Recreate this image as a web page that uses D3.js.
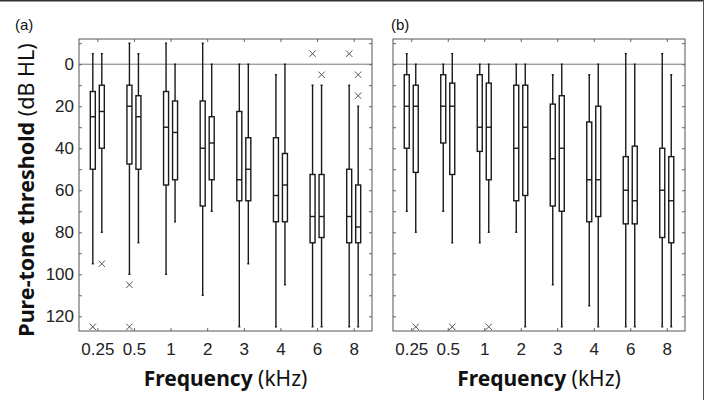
<!DOCTYPE html>
<html>
<head>
<meta charset="utf-8">
<script src="https://cdn.jsdelivr.net/npm/d3@7"></script>
<style>
    body { margin: 0; background: #fff; }
    svg { display: block; font-family: "Noto Sans", "Open Sans", sans-serif; }
    .axis text { font-size: 17px; fill: #222; }
    .axis line { stroke: #666; }
    .box { fill: #fff; stroke: #1a1a1a; stroke-width: 1.4; }
    .whisker, .median { stroke: #1a1a1a; stroke-width: 1.4; }
    .outlier { stroke: #555; stroke-width: 1; }
</style>
</head>
<body>
<svg id="chart" width="706" height="400"></svg>
<script>
// categories and tick values
const frequencies = ["0.25", "0.5", "1", "2", "3", "4", "6", "8"];
const yTickValues = [-10, 0, 10, 20, 30, 40, 50, 60, 70, 80, 90, 100, 110, 120];

// each row: [whisker top, q1, median, q3, whisker bottom] in dB HL
const panelALeft = [
    [-5, 13, 25, 50, 95],
    [-10, 10, 20, 47.5, 100],
    [-10, 13, 30, 57.5, 100],
    [-10, 17.5, 40, 67.5, 110],
    [0, 22.5, 55, 65, 125],
    [5, 35, 62.5, 75, 125],
    [10, 52.5, 72.5, 85, 125],
    [10, 50, 72.5, 85, 125]
];
const panelARight = [
    [-5, 10, 22.5, 40, 80],
    [-5, 15, 25, 50, 85],
    [0, 17.5, 32.5, 55, 75],
    [0, 25, 37.5, 55, 70],
    [0, 35, 50, 65, 95],
    [0, 42.5, 57.5, 75, 105],
    [10, 52.5, 72.5, 82.5, 125],
    [20, 57.5, 77.5, 85, 125]
];
const panelBLeft = [
    [-5, 5, 20, 40, 70],
    [0, 5, 20, 37.5, 70],
    [0, 5, 30, 41.5, 85],
    [0, 10, 40, 65, 80],
    [5, 19, 45, 67.5, 105],
    [5, 27.5, 55, 75, 115],
    [-5, 44, 60, 76, 125],
    [-5, 40, 60, 82.5, 125]
];
const panelBRight = [
    [0, 10, 20, 51.5, 80],
    [-5, 9, 20, 52.5, 85],
    [0, 9, 30, 55, 80],
    [0, 10, 30, 62.5, 125],
    [0, 15, 40, 70, 125],
    [0, 20, 55, 72.5, 125],
    [0, 39, 65, 76, 125],
    [5, 44, 65, 85, 125]
];
// outliers: [frequency, side (0 left, 1 right), value]
const panelAOutliers = [
    ["0.25", 0, 125], ["0.25", 1, 95], ["0.5", 0, 105], ["0.5", 0, 125],
    ["6", 0, -5], ["6", 1, 5], ["8", 0, -5], ["8", 1, 5], ["8", 1, 15]
];
const panelBOutliers = [
    ["0.25", 1, 125], ["0.5", 1, 125], ["1", 1, 125]
];

const svg = d3.select("#chart");
const plotTop = 39, plotBottom = 331;

const y = d3.scaleLinear().domain([-12, 127]).range([plotTop, plotBottom]);

// outer figure border (top and right only)
svg.append("line").attr("x1", 0).attr("x2", 703).attr("y1", 0.5).attr("y2", 0.5)
    .attr("stroke", "#333").attr("stroke-width", 2);
svg.append("line").attr("x1", 703.5).attr("x2", 703.5).attr("y1", 0).attr("y2", 400)
    .attr("stroke", "#555").attr("stroke-width", 1);

function drawPanel(left, right, leftData, rightData, outliers, letter, showYLabels) {
    const x = d3.scalePoint().domain(frequencies).range([left, right]).padding(0.5);
    const g = svg.append("g");
    const offset = 4.5, boxW = 5;

    // zero reference line
    g.append("line")
        .attr("x1", left).attr("x2", right)
        .attr("y1", y(0)).attr("y2", y(0))
        .attr("stroke", "#777").attr("stroke-width", 1);

    const yLeft = d3.axisLeft(y).tickValues(yTickValues).tickSize(-3).tickPadding(5)
        .tickFormat(d => showYLabels && d >= 0 && d % 20 === 0 ? d : "");
    g.append("g").attr("class", "axis").attr("transform", `translate(${left},0)`).call(yLeft);
    g.append("g").attr("class", "axis").attr("transform", `translate(${right},0)`)
        .call(d3.axisRight(y).tickValues(yTickValues).tickSize(-3).tickFormat(""));
    g.append("g").attr("class", "axis").attr("transform", `translate(0,${plotBottom})`)
        .call(d3.axisBottom(x).tickSize(-3).tickPadding(12));
    g.append("g").attr("class", "axis").attr("transform", `translate(0,${plotTop})`)
        .call(d3.axisTop(x).tickSize(-3).tickFormat(""));
    g.selectAll(".domain").remove();

    // frame
    g.append("rect")
        .attr("x", left).attr("y", plotTop)
        .attr("width", right - left).attr("height", plotBottom - plotTop)
        .attr("fill", "none").attr("stroke", "#555").attr("stroke-width", 1);

    [leftData, rightData].forEach((series, side) => {
        const rows = series.map((r, i) => ({f: frequencies[i], r: r}));
        const cx = d => x(d.f) + (side === 0 ? -offset : offset);
        const s = g.append("g");
        s.selectAll(".whisker-top").data(rows).enter().append("line")
            .attr("class", "whisker")
            .attr("x1", cx).attr("x2", cx)
            .attr("y1", d => y(d.r[0])).attr("y2", d => y(d.r[1]));
        s.selectAll(".whisker-bot").data(rows).enter().append("line")
            .attr("class", "whisker")
            .attr("x1", cx).attr("x2", cx)
            .attr("y1", d => y(d.r[3])).attr("y2", d => y(d.r[4]));
        s.selectAll(".cap").data(rows.flatMap(d => [{d, v: d.r[0]}, {d, v: d.r[4]}])).enter()
            .append("line")
            .attr("class", "whisker")
            .attr("x1", e => cx(e.d) - 1).attr("x2", e => cx(e.d) + 1)
            .attr("y1", e => y(e.v)).attr("y2", e => y(e.v));
        s.selectAll(".box").data(rows).enter().append("rect")
            .attr("class", "box")
            .attr("x", d => cx(d) - boxW / 2)
            .attr("y", d => y(d.r[1]))
            .attr("width", boxW)
            .attr("height", d => y(d.r[3]) - y(d.r[1]));
        s.selectAll(".median").data(rows).enter().append("line")
            .attr("class", "median")
            .attr("x1", d => cx(d) - boxW / 2).attr("x2", d => cx(d) + boxW / 2)
            .attr("y1", d => y(d.r[2])).attr("y2", d => y(d.r[2]));
    });

    // outliers as x marks
    const m = 3.2;
    const o = g.append("g").selectAll("g").data(outliers).enter().append("g")
        .attr("transform", d => `translate(${x(d[0]) + (d[1] === 0 ? -offset : offset)},${y(d[2])})`);
    o.append("line").attr("class", "outlier").attr("x1", -m).attr("y1", -m).attr("x2", m).attr("y2", m);
    o.append("line").attr("class", "outlier").attr("x1", -m).attr("y1", m).attr("x2", m).attr("y2", -m);

    // panel letter
    svg.append("text")
        .attr("x", letter === "(a)" ? 15 : left - 2)
        .attr("y", 30)
        .style("font-family", "'Liberation Sans', Arial, sans-serif")
        .style("font-size", "15px")
        .attr("fill", "#111")
        .text(letter);

    // x axis title
    const xt = svg.append("text")
        .attr("x", (left + right) / 2)
        .attr("y", 386)
        .style("text-anchor", "middle")
        .style("font-size", "21px")
        .attr("fill", "#111");
    xt.append("tspan").style("font-weight", "bold").text("Frequency");
    xt.append("tspan").text(" (kHz)");
}

drawPanel(79, 372, panelALeft, panelARight, panelAOutliers, "(a)", true);
drawPanel(393, 685, panelBLeft, panelBRight, panelBOutliers, "(b)", false);

// y axis title
const yt = svg.append("text")
    .attr("transform", `translate(34,${(plotTop + plotBottom) / 2 + 5}) rotate(-90)`)
    .style("text-anchor", "middle")
    .style("font-size", "21.5px")
    .attr("fill", "#111");
yt.append("tspan").style("font-weight", "bold").text("Pure-tone threshold");
yt.append("tspan").text(" (dB HL)");
</script>
</body>
</html>
